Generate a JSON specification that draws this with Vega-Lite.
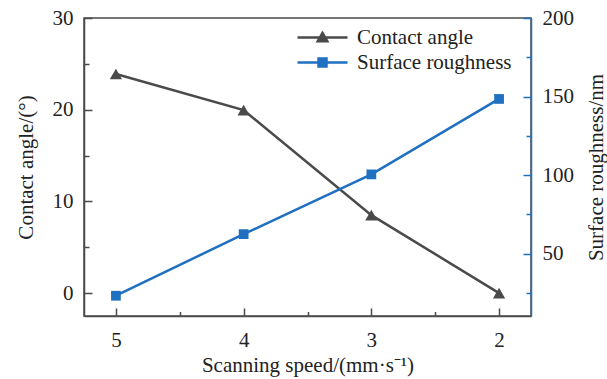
{
  "$schema": "https://vega.github.io/schema/vega-lite/v6.json",
  "width": 447,
  "height": 298,
  "autosize": {"type": "none"},
  "padding": {"left": 84, "top": 18, "right": 76, "bottom": 63},
  "background": "white",
  "config": {
    "view": {"stroke": "#4a4a4a", "strokeWidth": 1.5},
    "axis": {
      "labelFont": "Liberation Serif",
      "titleFont": "Liberation Serif",
      "labelFontSize": 21,
      "titleFontSize": 21,
      "labelColor": "#222222",
      "titleColor": "#222222",
      "titleFontWeight": "normal",
      "grid": false,
      "domainWidth": 1.5,
      "tickWidth": 1.5
    },
    "legend": {
      "labelFont": "Liberation Serif",
      "labelFontSize": 21,
      "labelColor": "#222222"
    }
  },
  "data": {
    "values": [
      {"speed": 5, "series": "Contact angle", "value": 23.9},
      {"speed": 4, "series": "Contact angle", "value": 19.95},
      {"speed": 3, "series": "Contact angle", "value": 8.5},
      {"speed": 2, "series": "Contact angle", "value": 0},
      {"speed": 5, "series": "Surface roughness", "value": 23.3},
      {"speed": 4, "series": "Surface roughness", "value": 62.5},
      {"speed": 3, "series": "Surface roughness", "value": 100.5},
      {"speed": 2, "series": "Surface roughness", "value": 148.5}
    ]
  },
  "layer": [
    {
      "transform": [{"filter": "datum.series === 'Contact angle'"}],
      "layer": [
        {
          "mark": {"type": "line", "strokeWidth": 2.5, "point": {"shape": "triangle-up", "size": 150, "filled": true, "opacity": 1}},
          "encoding": {
            "x": {
              "field": "speed", "type": "quantitative",
              "scale": {"domain": [1.75, 5.25], "reverse": true, "nice": false, "zero": false},
              "axis": {"orient": "bottom", "values": [2, 3, 4, 5], "tickSize": -8, "labelPadding": 21, "domainColor": "#4a4a4a", "tickColor": "#4a4a4a", "title": "Scanning speed/(mm·s⁻¹)", "titlePadding": 4}
            },
            "y": {
              "field": "value", "type": "quantitative",
              "scale": {"domain": [-2.5, 30], "nice": false, "zero": false},
              "axis": {"orient": "left", "values": [0, 10, 20, 30], "tickSize": -8, "labelPadding": 19, "domainColor": "#4a4a4a", "tickColor": "#4a4a4a", "title": "Contact angle/(°)", "titlePadding": 16}
            },
            "color": {
              "field": "series", "type": "nominal",
              "scale": {"domain": ["Contact angle", "Surface roughness"], "range": ["#4a4a4a", "#1f70c1"]},
              "legend": {
                "title": null,
                "orient": "none",
                "legendX": 227,
                "legendY": 8,
                "padding": 0,
                "symbolSize": 400,
                "labelOffset": 23,
                "rowPadding": 3,
                "symbolStrokeWidth": 2.5,
                "encode": {
                  "symbols": {
                    "update": {
                      "shape": {"signal": "datum.value === 'Contact angle' ? 'M-2.5,0H2.5M0,-0.45L0.48,0.38H-0.48Z' : 'M-2.5,0H2.5M-0.4,-0.4H0.4V0.4H-0.4Z'"},
                      "fill": {"signal": "datum.value === 'Contact angle' ? '#4a4a4a' : '#1f70c1'"},
                      "stroke": {"signal": "datum.value === 'Contact angle' ? '#4a4a4a' : '#1f70c1'"},
                      "opacity": {"value": 1}
                    }
                  }
                }
              }
            }
          }
        },
        {
          "mark": {"type": "point", "opacity": 0},
          "encoding": {
            "x": {
              "field": "speed", "type": "quantitative",
              "scale": {"domain": [1.75, 5.25], "reverse": true, "nice": false, "zero": false},
              "axis": {"orient": "bottom", "values": [2.5, 3.5, 4.5], "tickSize": -4.5, "labels": false, "domain": false, "tickColor": "#4a4a4a", "title": null}
            },
            "y": {
              "field": "value", "type": "quantitative",
              "scale": {"domain": [-2.5, 30], "nice": false, "zero": false},
              "axis": {"orient": "left", "values": [5, 15, 25], "tickSize": -5, "labels": false, "domain": false, "tickColor": "#4a4a4a", "title": null}
            }
          }
        }
      ],
      "resolve": {"axis": {"x": "independent", "y": "independent"}}
    },
    {
      "transform": [{"filter": "datum.series === 'Surface roughness'"}],
      "layer": [
        {
          "mark": {"type": "line", "strokeWidth": 2.5, "point": {"shape": "square", "size": 95, "filled": true, "opacity": 1}},
          "encoding": {
            "x": {
              "field": "speed", "type": "quantitative",
              "scale": {"domain": [1.75, 5.25], "reverse": true, "nice": false, "zero": false},
              "axis": null
            },
            "y": {
              "field": "value", "type": "quantitative",
              "scale": {"domain": [10.4, 200], "nice": false, "zero": false},
              "axis": {"orient": "right", "values": [50, 100, 150, 200], "tickSize": -8, "labelPadding": 19, "domainColor": "#1f70c1", "tickColor": "#1f70c1", "title": "Surface roughness/nm", "titleAngle": 270, "titleBaseline": "top", "titlePadding": 12}
            },
            "color": {"field": "series", "type": "nominal"}
          }
        },
        {
          "mark": {"type": "point", "opacity": 0},
          "encoding": {
            "x": {
              "field": "speed", "type": "quantitative",
              "scale": {"domain": [1.75, 5.25], "reverse": true, "nice": false, "zero": false},
              "axis": null
            },
            "y": {
              "field": "value", "type": "quantitative",
              "scale": {"domain": [10.4, 200], "nice": false, "zero": false},
              "axis": {"orient": "right", "values": [25, 75, 125, 175], "tickSize": -5, "labels": false, "domain": false, "tickColor": "#1f70c1", "title": null}
            }
          }
        }
      ],
      "resolve": {"axis": {"y": "independent"}}
    }
  ],
  "resolve": {"scale": {"y": "independent"}}
}
